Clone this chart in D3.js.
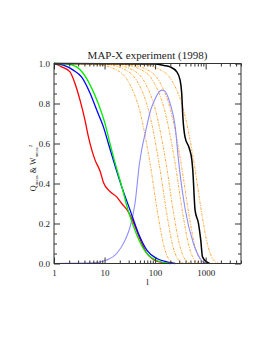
<!DOCTYPE html>
<html>
<head>
<meta charset="utf-8">
<script src="https://cdn.jsdelivr.net/npm/d3@7"></script>
<style>
  body { margin: 0; background: #fff; }
  text { font-family: "Liberation Serif", "DejaVu Serif", serif; fill: #222; }
</style>
</head>
<body>
<div id="chart"></div>
<script>
// curves, [l, value]
var redCurve = [[1,1],[1.42,0.983],[2.07,0.958],[2.6,0.9],[3.27,0.817],[4.1,0.717],[4.8,0.633],
  [5.6,0.567],[6.5,0.517],[8.2,0.46],[9.5,0.405],[12.8,0.36],[17.4,0.333],[21.9,0.3],[29.5,0.258],
  [37.2,0.205],[47,0.14],[65,0.06],[100,0.015],[150,0.003],[200,0]];
var blueCurve = [[1,1],[1.53,0.992],[2.4,0.967],[3.5,0.933],[5.2,0.85],[7,0.767],[9.5,0.683],
  [11.9,0.6],[14.9,0.517],[21.9,0.383],[32,0.267],[46.8,0.15],[68.5,0.067],[108,0.025],[170,0.008],[250,0]];
var greenCurve = [[1,1],[1.78,0.998],[2.8,0.983],[3.8,0.95],[5.2,0.892],[7.5,0.8],[10.2,0.7],
  [12.8,0.6],[15.6,0.517],[21.9,0.385],[29.5,0.262],[43,0.145],[63,0.062],[108,0.015],[200,0]];
var lightBlueCurve = [[1,0],[6,0.003],[11,0.017],[17.4,0.05],[25.5,0.117],[32,0.183],[40,0.3],
  [49,0.5],[68,0.683],[80,0.76],[93,0.805],[135,0.867],[150,0.865],[198,0.8],[250,0.683],
  [290,0.517],[394,0.27],[573,0.1],[778,0.025],[950,0.003],[1200,0]];
var blackCurve = [[1,1],[100,0.998],[150,0.99],[198,0.983],[269,0.958],[312,0.917],[336,0.85],
  [354,0.733],[390,0.633],[475,0.575],[533,0.517],[556,0.467],[617,0.267],[721,0.2],[800,0.117],
  [865,0.033],[1050,0.008],[1200,0]];
var orangeCurves = [
  [[1,1],[6.8,0.995],[16.7,0.97],[31,0.9],[48.9,0.77],[79.6,0.5],[112.6,0.25],[145,0.1],[189,0.02],[249,0]],
  [[1,1],[10.2,0.995],[25.1,0.97],[46.7,0.9],[73.6,0.77],[120,0.5],[170,0.25],[218,0.1],[285,0.02],[374,0]],
  [[1,1],[14,0.995],[34.6,0.97],[64.3,0.9],[101,0.77],[165,0.5],[233,0.25],[300,0.1],[392,0.02],[515,0]],
  [[1,1],[21.2,0.995],[52.2,0.97],[97.1,0.9],[153,0.77],[249,0.5],[352,0.25],[454,0.1],[591,0.02],[777,0]],
  [[1,1],[27.8,0.995],[68.6,0.97],[128,0.9],[201,0.77],[327,0.5],[463,0.25],[596,0.1],[777,0.02],[1022,0]],
  [[1,1],[50.3,0.995],[124,0.97],[231,0.9],[364,0.77],[592,0.5],[837,0.25],[1079,0.1],[1406,0.02],[1849,0]]
];
var baseline = [[1,0],[5000,0]];

var xMajor = [1, 10, 100, 1000];
var yMajor = [0, 0.2, 0.4, 0.6, 0.8, 1.0];

var svgWidth = 274, svgHeight = 355;
var plot = {left: 54, right: 241, top: 63.5, bottom: 263.5};

var svg = d3.select('#chart').append('svg')
  .attr('width', svgWidth)
  .attr('height', svgHeight);

var x = d3.scaleLog().domain([1, 5000]).range([plot.left, plot.right]);
var y = d3.scaleLinear().domain([0, 1]).range([plot.bottom, plot.top]);

// minor ticks
var xMinor = [];
[1, 10, 100, 1000].forEach(function(d) {
  for (var k = 2; k <= 9; k++) if (d * k <= 5000) xMinor.push(d * k);
});
var yMinor = d3.range(0, 1.0001, 0.05).filter(function(v) {
  return Math.abs(v * 5 - Math.round(v * 5)) > 1e-6;
});

var line = d3.line()
  .x(function(d) { return x(d[0]); })
  .y(function(d) { return y(d[1]); })
  .curve(d3.curveMonotoneX);

var curves = svg.append('g');

curves.append('path').datum(baseline)
  .attr('d', line).attr('fill', 'none')
  .attr('stroke', '#b0602a').attr('stroke-width', 1);

curves.selectAll('path.orange')
  .data(orangeCurves)
  .enter().append('path')
  .attr('class', 'orange')
  .attr('d', line)
  .attr('fill', 'none')
  .attr('stroke', '#ff9a1a')
  .attr('stroke-opacity', 0.85)
  .attr('stroke-width', 1)
  .attr('stroke-dasharray', '2.5,1.2,1,1.2');

function drawCurve(data, color, w) {
  curves.append('path').datum(data)
    .attr('d', line)
    .attr('fill', 'none')
    .attr('stroke', color)
    .attr('stroke-width', w);
}
drawCurve(lightBlueCurve, '#8c8cff', 1.1);
drawCurve(redCurve, '#ff0000', 1.3);
drawCurve(blueCurve, '#0000ff', 1.3);
drawCurve(greenCurve, '#00ee00', 1.3);
drawCurve(blackCurve, '#000000', 1.5);

// axes, ticks pointing inward
function styleAxis(g) {
  g.select('.domain').remove();
  g.selectAll('line').attr('stroke', '#333');
  g.selectAll('text').attr('font-size', 9).attr('fill', '#222')
    .style('font-family', '"Liberation Serif", serif');
}

svg.append('g')
  .attr('transform', 'translate(0,' + plot.bottom + ')')
  .call(d3.axisBottom(x).tickValues(xMajor).tickFormat(d3.format('d')).tickSize(-6).tickPadding(6))
  .call(styleAxis);
svg.append('g')
  .attr('transform', 'translate(0,' + plot.bottom + ')')
  .call(d3.axisBottom(x).tickValues(xMinor).tickFormat('').tickSize(-3))
  .call(styleAxis);
svg.append('g')
  .attr('transform', 'translate(0,' + plot.top + ')')
  .call(d3.axisTop(x).tickValues(xMajor).tickFormat('').tickSize(-6))
  .call(styleAxis);
svg.append('g')
  .attr('transform', 'translate(0,' + plot.top + ')')
  .call(d3.axisTop(x).tickValues(xMinor).tickFormat('').tickSize(-3))
  .call(styleAxis);

svg.append('g')
  .attr('transform', 'translate(' + plot.left + ',0)')
  .call(d3.axisLeft(y).tickValues(yMajor).tickFormat(d3.format('.1f')).tickSize(-6).tickPadding(4))
  .call(styleAxis);
svg.append('g')
  .attr('transform', 'translate(' + plot.left + ',0)')
  .call(d3.axisLeft(y).tickValues(yMinor).tickFormat('').tickSize(-3))
  .call(styleAxis);
svg.append('g')
  .attr('transform', 'translate(' + plot.right + ',0)')
  .call(d3.axisRight(y).tickValues(yMajor).tickFormat('').tickSize(-6))
  .call(styleAxis);
svg.append('g')
  .attr('transform', 'translate(' + plot.right + ',0)')
  .call(d3.axisRight(y).tickValues(yMinor).tickFormat('').tickSize(-3))
  .call(styleAxis);

// frame
svg.append('rect')
  .attr('x', plot.left).attr('y', plot.top)
  .attr('width', plot.right - plot.left)
  .attr('height', plot.bottom - plot.top)
  .attr('fill', 'none')
  .attr('stroke', '#333')
  .attr('stroke-width', 1);

// title and labels
svg.append('text')
  .attr('x', (plot.left + plot.right) / 2)
  .attr('y', 59)
  .attr('text-anchor', 'middle')
  .attr('font-size', 11)
  .text('MAP-X experiment (1998)');

svg.append('text')
  .attr('x', (plot.left + plot.right) / 2)
  .attr('y', 285)
  .attr('text-anchor', 'middle')
  .attr('font-size', 9)
  .text('l');

var ylab = svg.append('text')
  .attr('transform', 'translate(36,168) rotate(-90)')
  .attr('text-anchor', 'middle')
  .attr('font-size', 8);
ylab.append('tspan').text('Q');
ylab.append('tspan').attr('font-size', 5).attr('dy', 2).text('meas');
ylab.append('tspan').attr('dy', -2).text(' & W');
ylab.append('tspan').attr('font-size', 5).attr('dy', 2).text('meas');
ylab.append('tspan').attr('font-size', 5).attr('dy', -6).text('2');
</script>
</body>
</html>
